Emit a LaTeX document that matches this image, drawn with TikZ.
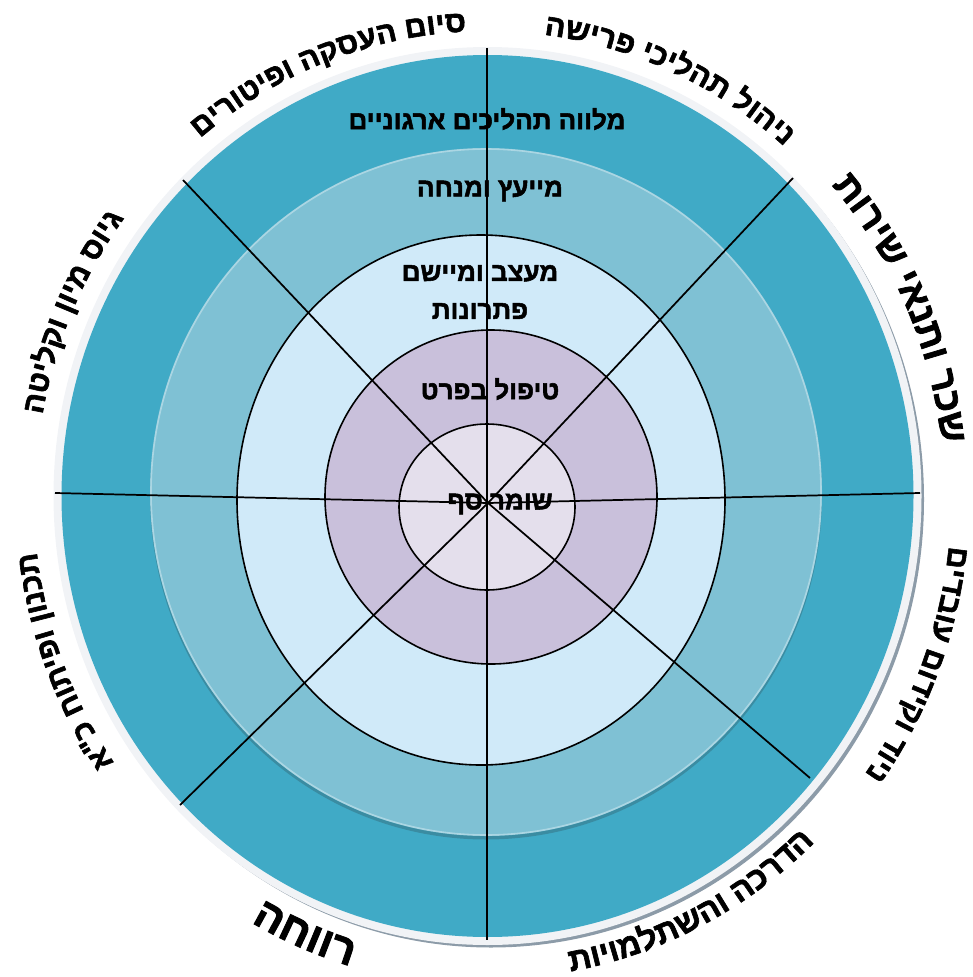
\documentclass[tikz,border=0pt]{standalone}
\usepackage{fontspec}
\setmainfont{Liberation Sans}
\newfontfamily\hebb[Script=Hebrew,FakeBold=2]{Liberation Sans Bold}
\TeXXeTstate=1
\usetikzlibrary{decorations.text}
\ExplSyntaxOn
% store the visual (reversed) order of a right-to-left line for text along a path
\cs_new_protected:Npn \SetRev #1 \beginR #2 \endR { \tl_set:Nx #1 { \tl_reverse:n {#2} } }
\ExplSyntaxOff
\definecolor{tealA}{HTML}{40AAC6}
\definecolor{tealB}{HTML}{7FC1D4}
\definecolor{tealShadow}{HTML}{3A8CA2}
\definecolor{lblue}{HTML}{D0EAF9}
\definecolor{lpurple}{HTML}{C9C0DB}
\definecolor{linner}{HTML}{E4DFEC}
\definecolor{rimA}{HTML}{F1F3F6}
\definecolor{rimShadow}{HTML}{8C9BA8}
\SetRev\labA\beginR סיום העסקה ופיטורים\endR
\SetRev\labB\beginR ניהול תהליכי פרישה\endR
\SetRev\labC\beginR שכר ותנאי שירות\endR
\SetRev\labD\beginR ניוד וקידום עובדים\endR
\SetRev\labE\beginR הדרכה והשתלמויות\endR
\SetRev\labF\beginR רווחה\endR
\SetRev\labG\beginR תכנון ופיתוח כ"א\endR
\SetRev\labH\beginR גיוס מיון וקליטה\endR
\begin{document}
\begin{tikzpicture}[x=0.75pt,y=0.75pt,
  ringline/.style={draw=black,line width=1.2pt},
  spoke/.style={draw=black,line width=1.3pt},
  intext/.style={font=\hebb\fontsize{19.5}{28.5}\selectfont,text=black,align=center,inner sep=0pt},
  curved/.style={decorate,decoration={text along path,text align=center,text/.expand once=#1}}]
\useasboundingbox (0,0) rectangle (972,-977);
\coordinate (C) at (487.5,-496);
\coordinate (S) at (488,-503);
% outer rim with shadow
\fill[rimShadow] (491,-499.5) ellipse [x radius=433,y radius=448];
\fill[rimA] (C) ellipse [x radius=434,y radius=449];
\fill[tealA] (C) ellipse [x radius=426,y radius=441];
% second ring
\fill[tealShadow] (486,-495.5) ellipse [x radius=336,y radius=344];
\fill[tealB] (486,-492) ellipse [x radius=336,y radius=344];
\draw[white,opacity=0.35,line width=1.2pt] (486,-492) ellipse [x radius=335,y radius=343];
% inner rings
\path[fill=lblue,ringline] (481,-500) ellipse [x radius=244,y radius=265];
\path[fill=lpurple,ringline] (491,-497) ellipse [x radius=166,y radius=167];
\path[fill=linner,ringline] (487,-507) ellipse [x radius=88,y radius=83];
% inner texts
\node[intext] (t1) at (487,-119) {\beginR מלווה תהליכים ארגוניים\endR};
\node[intext] (t2) at (490,-191) {\beginR מייעץ ומנחה\endR};
\node[intext] (t3) at (480,-292) {\beginR מעצב ומיישם\endR\\\beginR פתרונות\endR};
\node[intext] (t4) at (490,-389) {\beginR טיפול בפרט\endR};
\node[intext] (t5) at (500,-504) {\beginR שומר סף\endR};
% spokes
\coordinate (pN) at (487,-48);
\coordinate (pS) at (487,-940);
\coordinate (pW) at (55,-493);
\coordinate (pE) at (920,-493);
\coordinate (pNW) at (183,-180);
\coordinate (pNE) at (793,-178);
\coordinate (pSE) at (810,-778);
\coordinate (pSW) at (180,-805);
\draw[spoke] (pN) -- (pS);
\draw[spoke] (pW) -- (S) -- (pE);
\draw[spoke] (pNW) -- (S) -- (pSE);
\draw[spoke] (pNE) -- (S) -- (pSW);
% outer labels
\begin{scope}
\hebb\fontsize{22.5}{22.5}\selectfont
\path[curved=\labA] (C) ++(151:450 and 465) arc[start angle=151,end angle=71,x radius=450,y radius=465];
\path[curved=\labB] (C) ++(106:450 and 465) arc[start angle=106,end angle=26,x radius=450,y radius=465];
\path[curved=\labD] (C) ++(19:464 and 478) arc[start angle=19,end angle=-61,x radius=464,y radius=478];
\path[curved=\labG] (C) ++(241:454 and 469) arc[start angle=241,end angle=161,x radius=454,y radius=469];
\path[curved=\labH] (C) ++(196.5:452 and 467) arc[start angle=196.5,end angle=116.5,x radius=452,y radius=467];
\end{scope}
\begin{scope}
\hebb\fontsize{28}{28}\selectfont
\path[curved=\labC] (C) ++(64:457 and 472) arc[start angle=64,end angle=-16,x radius=457,y radius=472];
\end{scope}
\begin{scope}
\hebb\fontsize{24}{24}\selectfont
\path[curved=\labE] (C) ++(-103:469 and 483) arc[start angle=-103,end angle=-23,x radius=469,y radius=483];
\end{scope}
\begin{scope}
\hebb\fontsize{32}{32}\selectfont
\path[curved=\labF] (C) ++(-153:476 and 491) arc[start angle=-153,end angle=-73,x radius=476,y radius=491];
\end{scope}
\end{tikzpicture}
\end{document}
